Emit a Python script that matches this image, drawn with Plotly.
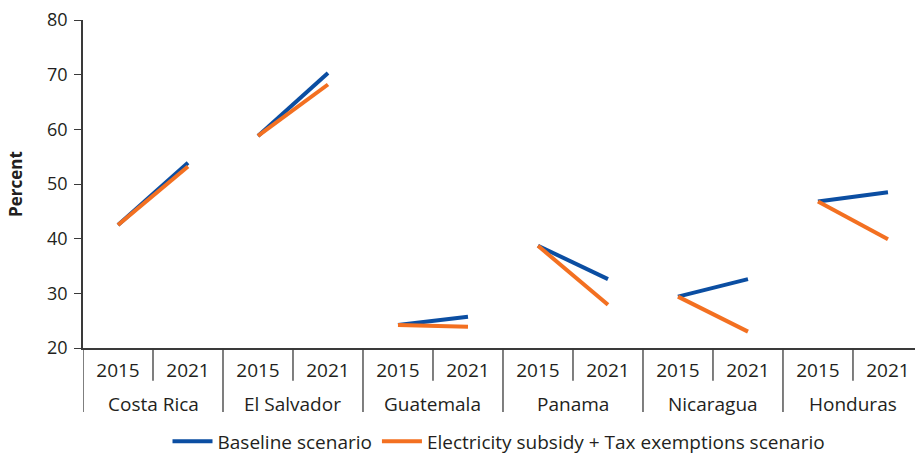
import plotly.graph_objects as go

countries = ["Costa Rica", "El Salvador", "Guatemala", "Panama", "Nicaragua", "Honduras"]
years = ["2015", "2021"]

baseline = {
    "Costa Rica": [42.5, 53.9],
    "El Salvador": [58.8, 70.3],
    "Guatemala": [24.2, 25.7],
    "Panama": [38.7, 32.6],
    "Nicaragua": [29.4, 32.6],
    "Honduras": [46.8, 48.5],
}
subsidy = {
    "Costa Rica": [42.5, 53.2],
    "El Salvador": [58.8, 68.2],
    "Guatemala": [24.2, 23.9],
    "Panama": [38.7, 27.9],
    "Nicaragua": [29.4, 23.0],
    "Honduras": [46.8, 39.9],
}

BLUE = "#0b4ea2"
ORANGE = "#f37021"
TEXT = "#231f20"
RULE = "#3a3a3a"
FONT = "Open Sans"

n_years = len(years)
# slot index of each (country, year) pair along the x axis
slot = {(c, y): i * n_years + j for i, c in enumerate(countries) for j, y in enumerate(years)}

fig = go.Figure()


def add_series(data, name, color):
    # one segment per country so neighbouring countries are not joined
    first = True
    for c in countries:
        fig.add_trace(go.Scatter(
            x=[slot[(c, y)] for y in years],
            y=data[c],
            mode="lines",
            line=dict(color=color, width=4),
            name=name,
            legendgroup=name,
            showlegend=first,
            hovertemplate=c + " %{text}: %{y}<extra>" + name + "</extra>",
            text=years,
        ))
        first = False


add_series(baseline, "Baseline scenario", BLUE)
add_series(subsidy, "Electricity subsidy + Tax exemptions scenario", ORANGE)

# second label row (country names) and the separators of the category axis
for i, c in enumerate(countries):
    first_slot = slot[(c, years[0])]
    last_slot = slot[(c, years[-1])]
    fig.add_annotation(x=(first_slot + last_slot) / 2, xref="x",
                       y=-0.172, yref="paper", yanchor="middle",
                       text=c, showarrow=False,
                       font=dict(size=19, color=TEXT))
    # long divider at the left edge of each country group
    fig.add_shape(type="line", xref="x", yref="paper",
                  x0=first_slot - 0.5, x1=first_slot - 0.5, y0=0, y1=-0.195,
                  line=dict(color=RULE, width=1.3))
    # short divider between the years inside a group
    for s in range(first_slot, last_slot):
        fig.add_shape(type="line", xref="x", yref="paper",
                      x0=s + 0.5, x1=s + 0.5, y0=0, y1=-0.1,
                      line=dict(color=RULE, width=1.3))

fig.update_layout(
    width=915, height=454,
    margin=dict(l=83, r=0, t=20, b=106, autoexpand=False),
    paper_bgcolor="white", plot_bgcolor="white",
    font=dict(family=FONT, size=18, color=TEXT),
    showlegend=True,
    legend=dict(orientation="h", x=0.5, xanchor="center", y=-0.285, yanchor="middle",
                font=dict(size=19, color=TEXT), traceorder="normal",
                itemwidth=40, tracegroupgap=0),
    xaxis=dict(
        range=[-0.5, 11.386],
        tickmode="array",
        tickvals=[slot[(c, y)] for c in countries for y in years],
        ticktext=[y for c in countries for y in years],
        showline=True, linecolor=RULE, linewidth=1.5,
        ticks="", ticklabelstandoff=4,
        showgrid=False, zeroline=False,
        tickfont=dict(size=19, color=TEXT),
    ),
    yaxis=dict(
        range=[20, 80], dtick=10,
        showline=True, linecolor=RULE, linewidth=1.5,
        ticks="outside", ticklen=7, tickcolor=RULE,
        ticklabelstandoff=3,
        showgrid=False, zeroline=False,
        tickfont=dict(size=18, color=TEXT),
        title=dict(text="<b>Percent</b>", font=dict(size=17, color=TEXT), standoff=20),
    ),
)

fig.write_html("out.html")
